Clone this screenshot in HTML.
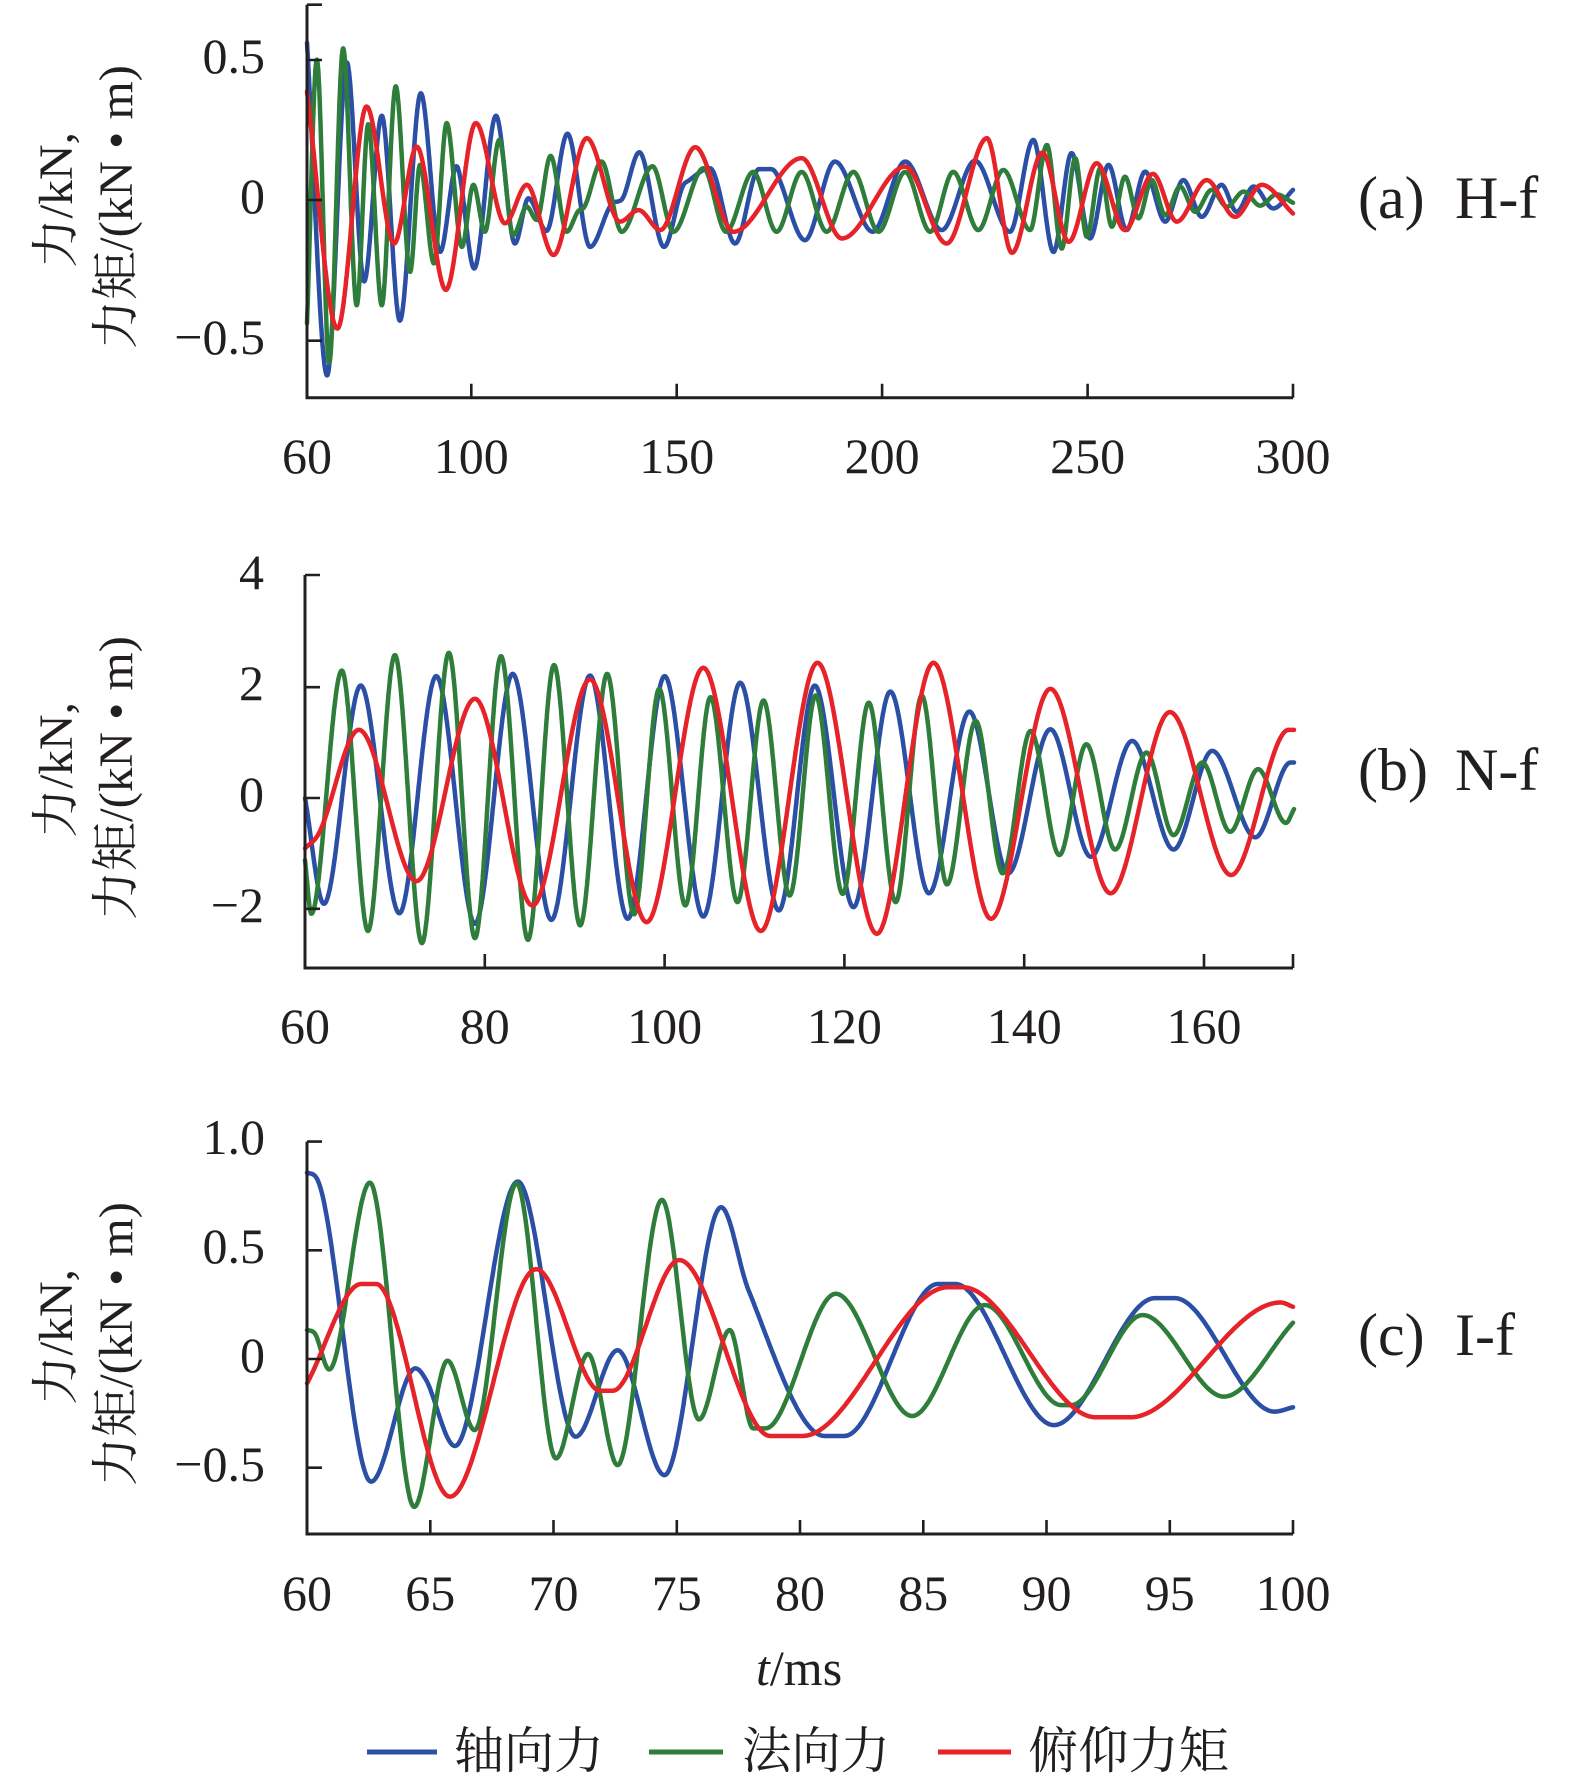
<!DOCTYPE html>
<html>
<head>
<meta charset="utf-8">
<style>
html,body{margin:0;padding:0;background:#fff;}
svg{display:block;}
.tk{font-family:"Liberation Serif","Noto Serif CJK SC",serif;font-size:50px;fill:#231f20;}
.lab{font-family:"Liberation Serif","Noto Serif CJK SC",serif;font-size:60px;fill:#231f20;}
.yl{font-family:"Liberation Serif","Noto Serif CJK SC",serif;font-size:48px;fill:#231f20;}
.lg{font-family:"Liberation Serif","Noto Serif CJK SC",serif;font-size:50px;fill:#231f20;}
.ax{stroke:#231f20;stroke-width:3;fill:none;}
.tc{stroke:#231f20;stroke-width:2.6;fill:none;}
.s{fill:none;stroke-width:4.5;stroke-linejoin:round;stroke-linecap:round;}
</style>
</head>
<body>
<svg id="svg" xmlns="http://www.w3.org/2000/svg" width="1575" height="1781" viewBox="0 0 1575 1781">
<rect x="0" y="0" width="1575" height="1781" fill="#fff"/>

<!-- ============ Panel (a) ============ -->
<g id="pa"></g>
<path class="ax" d="M307,4.7 V397.7 H1293"/>
<path class="tc" d="M307,4.7 H322 M307,60 H322 M307,200 H322 M307,340.7 H322"/>
<path class="tc" d="M471.3,397.7 V383.7 M676.7,397.7 V383.7 M882.1,397.7 V383.7 M1087.6,397.7 V383.7 M1293,397.7 V383.7"/>
<text class="tk" x="265" y="73" text-anchor="end">0.5</text>
<text class="tk" x="265" y="213" text-anchor="end">0</text>
<text class="tk" x="265" y="354" text-anchor="end">−0.5</text>
<text class="tk" x="307" y="473" text-anchor="middle">60</text>
<text class="tk" x="471.3" y="473" text-anchor="middle">100</text>
<text class="tk" x="676.7" y="473" text-anchor="middle">150</text>
<text class="tk" x="882.1" y="473" text-anchor="middle">200</text>
<text class="tk" x="1087.6" y="473" text-anchor="middle">250</text>
<text class="tk" x="1293" y="473" text-anchor="middle">300</text>
<text class="yl" transform="translate(72,200) rotate(-90)" text-anchor="middle" textLength="136" lengthAdjust="spacingAndGlyphs">力/kN,</text>
<text class="yl" transform="translate(132,207) rotate(-90)" text-anchor="middle" textLength="284" lengthAdjust="spacingAndGlyphs">力矩/(kN • m)</text>
<text class="lab" x="1358" y="218">(a)</text>
<text class="lab" x="1455" y="218">H-f</text>

<!-- ============ Panel (b) ============ -->
<g id="pb"></g>
<path class="ax" d="M305,575 V968 H1293"/>
<path class="tc" d="M305,575 H320 M305,687.2 H320 M305,798 H320 M305,908.8 H320"/>
<path class="tc" d="M484.8,968 V954 M664.6,968 V954 M844.4,968 V954 M1024.2,968 V954 M1204,968 V954 M1293,968 V954"/>
<text class="tk" x="264" y="589" text-anchor="end">4</text>
<text class="tk" x="264" y="700" text-anchor="end">2</text>
<text class="tk" x="264" y="811" text-anchor="end">0</text>
<text class="tk" x="264" y="922" text-anchor="end">−2</text>
<text class="tk" x="305" y="1043" text-anchor="middle">60</text>
<text class="tk" x="484.8" y="1043" text-anchor="middle">80</text>
<text class="tk" x="664.6" y="1043" text-anchor="middle">100</text>
<text class="tk" x="844.4" y="1043" text-anchor="middle">120</text>
<text class="tk" x="1024.2" y="1043" text-anchor="middle">140</text>
<text class="tk" x="1204" y="1043" text-anchor="middle">160</text>
<text class="yl" transform="translate(72,770) rotate(-90)" text-anchor="middle" textLength="136" lengthAdjust="spacingAndGlyphs">力/kN,</text>
<text class="yl" transform="translate(132,778) rotate(-90)" text-anchor="middle" textLength="284" lengthAdjust="spacingAndGlyphs">力矩/(kN • m)</text>
<text class="lab" x="1358" y="790">(b)</text>
<text class="lab" x="1455" y="790">N-f</text>

<!-- ============ Panel (c) ============ -->
<g id="pc"></g>
<path class="ax" d="M307,1141.6 V1534 H1293"/>
<path class="tc" d="M307,1141.6 H322 M307,1250.3 H322 M307,1359 H322 M307,1467.7 H322"/>
<path class="tc" d="M430.3,1534 V1520 M553.5,1534 V1520 M676.8,1534 V1520 M800,1534 V1520 M923.3,1534 V1520 M1046.5,1534 V1520 M1169.8,1534 V1520 M1293,1534 V1520"/>
<text class="tk" x="265" y="1154" text-anchor="end">1.0</text>
<text class="tk" x="265" y="1263" text-anchor="end">0.5</text>
<text class="tk" x="265" y="1372" text-anchor="end">0</text>
<text class="tk" x="265" y="1481" text-anchor="end">−0.5</text>
<text class="tk" x="307" y="1610" text-anchor="middle">60</text>
<text class="tk" x="430.3" y="1610" text-anchor="middle">65</text>
<text class="tk" x="553.5" y="1610" text-anchor="middle">70</text>
<text class="tk" x="676.8" y="1610" text-anchor="middle">75</text>
<text class="tk" x="800" y="1610" text-anchor="middle">80</text>
<text class="tk" x="923.3" y="1610" text-anchor="middle">85</text>
<text class="tk" x="1046.5" y="1610" text-anchor="middle">90</text>
<text class="tk" x="1169.8" y="1610" text-anchor="middle">95</text>
<text class="tk" x="1293" y="1610" text-anchor="middle">100</text>
<text class="yl" transform="translate(72,1337) rotate(-90)" text-anchor="middle" textLength="136" lengthAdjust="spacingAndGlyphs">力/kN,</text>
<text class="yl" transform="translate(132,1344) rotate(-90)" text-anchor="middle" textLength="284" lengthAdjust="spacingAndGlyphs">力矩/(kN • m)</text>
<text class="lab" x="1358" y="1355">(c)</text>
<text class="lab" x="1455" y="1355">I-f</text>

<!-- x label -->
<text class="tk" x="756" y="1685"><tspan font-style="italic">t</tspan>/ms</text>

<!-- legend -->
<line x1="367" y1="1752" x2="437" y2="1752" stroke="#2b4fa5" stroke-width="5"/>
<text class="lg" x="454" y="1768" textLength="150" lengthAdjust="spacingAndGlyphs">轴向力</text>
<line x1="649" y1="1752" x2="723" y2="1752" stroke="#2f7d3a" stroke-width="5"/>
<text class="lg" x="742" y="1768" textLength="148" lengthAdjust="spacingAndGlyphs">法向力</text>
<line x1="938" y1="1752" x2="1011" y2="1752" stroke="#e52329" stroke-width="5"/>
<text class="lg" x="1028" y="1768" textLength="201" lengthAdjust="spacingAndGlyphs">俯仰力矩</text>
</svg>

<script>
(function(){
var NS="http://www.w3.org/2000/svg";
var BLUE="#2b4fa5", GREEN="#2f7d3a", RED="#e52329";
function mono(pts){
  var n=pts.length, xs=[], ys=[], d=[], m=[], k;
  for(k=0;k<n;k++){xs.push(pts[k][0]);ys.push(pts[k][1]);}
  for(k=0;k<n-1;k++) d.push((ys[k+1]-ys[k])/(xs[k+1]-xs[k]));
  m[0]=d[0]; m[n-1]=d[n-2];
  for(k=1;k<n-1;k++){ m[k]=(d[k-1]*d[k]<=0)?0:(d[k-1]+d[k])/2; }
  for(k=0;k<n-1;k++){
    if(d[k]===0){m[k]=0;m[k+1]=0;continue;}
    var a=m[k]/d[k], b=m[k+1]/d[k], s=a*a+b*b;
    if(s>9){var t=3/Math.sqrt(s); m[k]=t*a*d[k]; m[k+1]=t*b*d[k];}
  }
  return function(t){
    var k=0; while(k<n-2 && t>xs[k+1]) k++;
    var h=xs[k+1]-xs[k], s=(t-xs[k])/h, s2=s*s, s3=s2*s;
    return (2*s3-3*s2+1)*ys[k]+(s3-2*s2+s)*h*m[k]+(-2*s3+3*s2)*ys[k+1]+(s3-s2)*h*m[k+1];
  };
}
function draw(gid,pts,color,X,Y,dt){
  var f=mono(pts), t0=pts[0][0], t1=pts[pts.length-1][0], d="", first=true;
  for(var t=t0;t<=t1+1e-9;t+=dt){
    var x=X(t), y=Y(f(t));
    d+=(first?"M":"L")+x.toFixed(1)+","+y.toFixed(1); first=false;
  }
  var p=document.createElementNS(NS,"path");
  p.setAttribute("d",d); p.setAttribute("class","s"); p.setAttribute("stroke",color);
  document.getElementById(gid).appendChild(p);
}
/* ---------- panel a ---------- */
var XA=function(t){return 307+(t-60)*4.1083;}, YA=function(v){return 200-v*280.7;};
var blueA=[[60,0.56],[64.9,-0.625],[69.7,0.49],[73.9,-0.29],[78.2,0.30],[82.6,-0.43],[87.7,0.38],[92.4,-0.185],[96.4,0.12],[100.7,-0.244],[106,0.30],[110.6,-0.155],[113.9,0.006],[118.3,-0.11],[123.4,0.236],[128.9,-0.167],[134.5,-0.01],[136.5,0.0],[140.9,0.17],[146.9,-0.167],[151.5,0.05],[153,0.07],[158.1,0.113],[164.2,-0.155],[170,0.11],[173,0.11],[181.2,-0.143],[188.5,0.137],[197.7,-0.113],[205.6,0.137],[214.5,-0.107],[222.6,0.14],[231.1,-0.113],[236.8,0.214],[241.7,-0.185],[246.1,0.167],[250.6,-0.137],[255.1,0.125],[259.5,-0.107],[264,0.101],[268.9,-0.077],[273.3,0.071],[277.8,-0.06],[282.6,0.054],[286.3,-0.042],[290.4,0.048],[295.2,-0.03],[300,0.036]];
var greenA=[[60,-0.44],[62.4,0.5],[65.4,-0.58],[68.8,0.54],[72.1,-0.375],[74.9,0.27],[78.2,-0.375],[81.6,0.405],[85.1,-0.256],[87.5,0.125],[90.9,-0.226],[94,0.274],[97.7,-0.167],[100.5,0.054],[103.3,-0.113],[106.8,0.214],[110.2,-0.125],[113.5,-0.024],[115.9,-0.071],[119.3,0.157],[123.2,-0.113],[126,-0.04],[127.5,-0.025],[131.7,0.137],[136.6,-0.113],[144.1,0.12],[149.2,-0.113],[156.5,0.113],[162,-0.113],[168.6,0.10],[174.3,-0.113],[180.4,0.10],[186.5,-0.113],[193,0.10],[199.1,-0.113],[205.6,0.10],[211.7,-0.113],[217.3,0.10],[223.4,-0.107],[229.5,0.107],[236,-0.107],[240.1,0.196],[243.7,-0.173],[247,0.149],[249.8,-0.131],[253.1,0.113],[255.9,-0.095],[259.1,0.083],[262.4,-0.065],[265.6,0.071],[268.9,-0.054],[272.5,0.048],[276.2,-0.042],[280.2,0.036],[283.9,-0.024],[288,0.03],[292,-0.02],[296,0.02],[300,-0.01]];
var redA=[[60,0.387],[67.4,-0.458],[74.5,0.333],[81.2,-0.155],[86.7,0.19],[93.8,-0.32],[101.1,0.274],[108.2,-0.083],[113.5,0.054],[120,-0.196],[128.1,0.22],[136.2,-0.077],[140.7,-0.036],[146,-0.107],[154.5,0.188],[163.8,-0.113],[180.4,0.149],[190.2,-0.137],[205.6,0.119],[215.7,-0.155],[225.5,0.22],[231.6,-0.188],[239,0.169],[245.4,-0.149],[252.2,0.131],[259.1,-0.107],[265.9,0.093],[271.7,-0.077],[279,0.071],[285.9,-0.06],[292.4,0.054],[300,-0.048]];
draw("pa",blueA,BLUE,XA,YA,0.08);
draw("pa",greenA,GREEN,XA,YA,0.08);
draw("pa",redA,RED,XA,YA,0.08);
/* ---------- panel b ---------- */
var XB=function(t){return 305+(t-60)*8.991;}, YB=function(v){return 798-v*55.4;};
var blueB=[[60,0],[62.1,-1.91],[66.2,2.03],[70.5,-2.08],[74.6,2.2],[78.9,-2.27],[83.1,2.24],[87.4,-2.2],[91.7,2.21],[95.9,-2.18],[100,2.2],[104.3,-2.14],[108.4,2.08],[112.7,-2.03],[116.7,2.03],[121,-1.97],[125.1,1.92],[129.4,-1.72],[133.9,1.56],[138.2,-1.36],[142.9,1.24],[147.4,-1.06],[152,1.03],[156.6,-0.93],[160.9,0.85],[165.7,-0.71],[169.6,0.64],[170,0.64]];
var greenB=[[60,-1.12],[60.7,-2.09],[64.1,2.3],[67,-2.4],[70,2.58],[73,-2.62],[76,2.62],[78.9,-2.53],[81.8,2.56],[84.8,-2.56],[87.7,2.4],[90.6,-2.3],[93.6,2.24],[96.6,-2.1],[99.4,1.97],[102.3,-1.94],[105.1,1.82],[108.1,-1.88],[111,1.76],[113.9,-1.76],[116.8,1.85],[119.8,-1.73],[122.7,1.72],[125.7,-1.88],[128.6,1.85],[131.4,-1.56],[134.6,1.39],[137.6,-1.36],[140.7,1.21],[143.9,-1.03],[146.9,0.97],[150.1,-0.93],[153.6,0.82],[156.6,-0.67],[159.8,0.64],[162.9,-0.61],[166,0.52],[169.1,-0.45],[170,-0.2]];
var redB=[[60,-0.91],[61.5,-0.65],[66,1.23],[72.4,-1.5],[78.9,1.79],[85.3,-1.94],[91.7,2.14],[98,-2.24],[104.3,2.35],[110.7,-2.4],[117,2.44],[123.6,-2.45],[129.9,2.44],[136.3,-2.18],[142.9,1.97],[149.6,-1.72],[156.2,1.55],[163,-1.39],[169.4,1.23],[170,1.23]];
draw("pb",blueB,BLUE,XB,YB,0.04);
draw("pb",greenB,GREEN,XB,YB,0.04);
draw("pb",redB,RED,XB,YB,0.04);
/* ---------- panel c ---------- */
var XC=function(t){return 307+(t-60)*24.65;}, YC=function(v){return 1359-v*217.4;};
var blueC=[[60,0.857],[60.4,0.83],[62.6,-0.564],[64.4,-0.043],[64.8,-0.09],[66,-0.40],[68.55,0.816],[70.9,-0.357],[72.6,0.04],[74.5,-0.534],[76.8,0.698],[77.9,0.32],[81.0,-0.354],[81.8,-0.354],[85.6,0.345],[86.3,0.345],[90.3,-0.304],[94.4,0.28],[95.2,0.28],[99.25,-0.242],[100,-0.222]];
var greenC=[[60,0.133],[60.3,0.12],[60.9,-0.048],[62.55,0.811],[64.35,-0.68],[65.7,-0.008],[66.8,-0.327],[68.5,0.808],[70.1,-0.457],[71.4,0.023],[72.6,-0.488],[74.4,0.732],[75.9,-0.278],[77.15,0.133],[78.1,-0.319],[78.6,-0.319],[81.45,0.3],[84.55,-0.262],[87.5,0.248],[90.6,-0.212],[91.0,-0.212],[93.9,0.202],[97.2,-0.173],[100,0.167]];
var redC=[[60,-0.112],[62.2,0.345],[62.8,0.345],[65.8,-0.633],[69.3,0.413],[71.9,-0.146],[72.4,-0.146],[75.1,0.455],[78.8,-0.354],[80.1,-0.354],[86.0,0.33],[86.6,0.33],[92.0,-0.268],[93.4,-0.268],[99.5,0.26],[100,0.24]];
draw("pc",blueC,BLUE,XC,YC,0.02);
draw("pc",greenC,GREEN,XC,YC,0.02);
draw("pc",redC,RED,XC,YC,0.02);
})();
</script>
</body>
</html>
